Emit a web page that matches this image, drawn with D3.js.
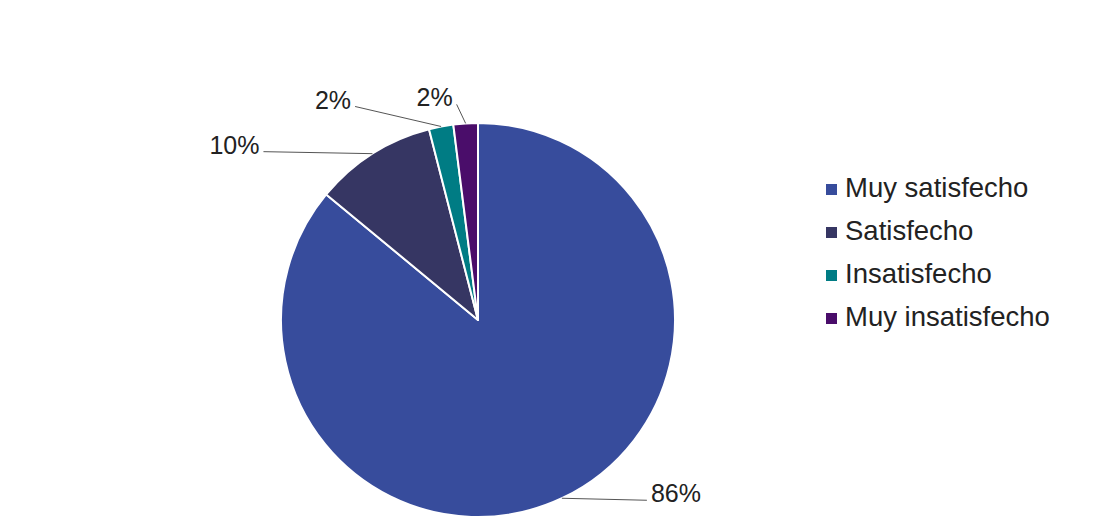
<!DOCTYPE html>
<html>
<head>
<meta charset="utf-8">
<script src="https://cdn.jsdelivr.net/npm/d3@7"></script>
<style>
  body { margin: 0; background: #fff; }
  svg { display: block; font-family: "Liberation Sans", Arial, sans-serif; }
</style>
</head>
<body>
<div id="chart"></div>
<script>
// data
const categories = ["Muy satisfecho", "Satisfecho", "Insatisfecho", "Muy insatisfecho"];
const values = [86, 10, 2, 2];
const labels = ["86%", "10%", "2%", "2%"];
const colors = ["#374c9c", "#363663", "#007c84", "#4a0d6a"];

// label leader offsets from slice edge (layout only)
const labelOffsets = [[85, 2], [-109, -2], [-86, -20], [-9, -19]];

const width = 1094, height = 520;
const cx = 478, cy = 320, radius = 197;

const svg = d3.select("#chart").append("svg")
    .attr("width", width)
    .attr("height", height);

const pie = d3.pie().sort(null).value(d => d)(values);
const arc = d3.arc().innerRadius(0).outerRadius(radius);

const g = svg.append("g").attr("transform", `translate(${cx},${cy})`);

g.selectAll("path")
    .data(pie)
    .join("path")
    .attr("d", arc)
    .attr("fill", (d, i) => colors[i])
    .attr("stroke", "#fff")
    .attr("stroke-width", 2)
    .attr("stroke-linejoin", "round");

// leader lines + labels
pie.forEach((d, i) => {
    const a = (d.startAngle + d.endAngle) / 2;
    const ex = radius * Math.sin(a), ey = -radius * Math.cos(a);
    const lx = ex + labelOffsets[i][0], ly = ey + labelOffsets[i][1];
    g.append("line")
        .attr("x1", ex).attr("y1", ey)
        .attr("x2", lx).attr("y2", ly)
        .attr("stroke", "#555")
        .attr("stroke-width", 1);
    const right = lx > ex;
    g.append("text")
        .attr("x", right ? lx + 4 : lx - 4)
        .attr("y", ly + 2)
        .attr("text-anchor", right ? "start" : "end")
        .attr("font-size", 25)
        .attr("fill", "#222")
        .text(labels[i]);
});

// legend
const legend = svg.append("g").attr("transform", "translate(826,189)");
const item = legend.selectAll("g")
    .data(categories)
    .join("g")
    .attr("transform", (d, i) => `translate(0,${i * 43})`);

item.append("rect")
    .attr("x", 0).attr("y", -5)
    .attr("width", 11).attr("height", 11)
    .attr("fill", (d, i) => colors[i]);

item.append("text")
    .attr("x", 19)
    .attr("y", 8)
    .attr("font-size", 27.5)
    .attr("fill", "#222")
    .text(d => d);
</script>
</body>
</html>
